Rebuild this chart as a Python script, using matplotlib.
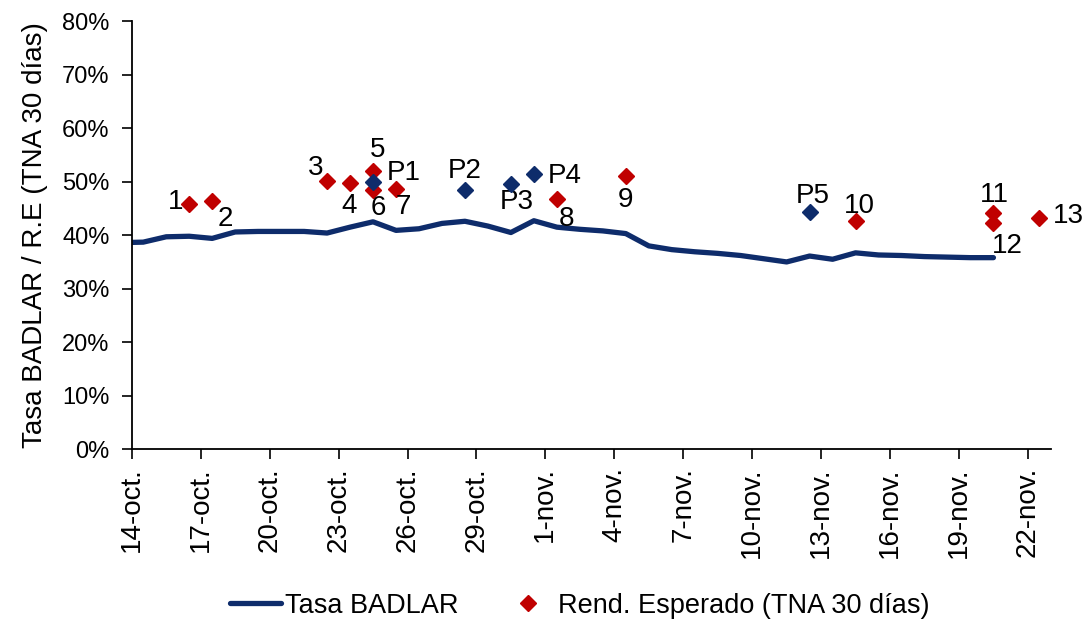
import pandas as pd
import numpy as np
import matplotlib.pyplot as plt
from matplotlib.ticker import FuncFormatter, MultipleLocator

plt.rcParams["font.family"] = ["Liberation Sans", "DejaVu Sans"]

# Tasa BADLAR, daily from 13-oct to 20-nov (%)
badlar_start = "2019-10-13"
badlar = [38.6, 38.7, 39.7, 39.8, 39.4, 40.6, 40.7, 40.7, 40.7, 40.4,
          41.5, 42.5, 40.9, 41.2, 42.2, 42.6, 41.7, 40.5, 42.7, 41.5,
          41.1, 40.8, 40.3, 38.0, 37.3, 36.9, 36.6, 36.2, 35.6, 35.0,
          36.1, 35.5, 36.7, 36.3, 36.2, 36.0, 35.9, 35.8, 35.8]

# Rend. Esperado (TNA 30 dias), red points
red_labels = ["1", "2", "3", "4", "5", "6", "7", "8", "9", "10", "11", "12", "13"]
red_dates = ["2019-10-16", "2019-10-17", "2019-10-22", "2019-10-23", "2019-10-24",
             "2019-10-24", "2019-10-25", "2019-11-01", "2019-11-04", "2019-11-14",
             "2019-11-20", "2019-11-20", "2019-11-22"]
red_values = [45.9, 46.4, 50.2, 49.8, 52.0, 48.4, 48.7, 46.7, 51.0, 42.6, 44.2, 42.3, 43.3]

# blue points
blue_labels = ["P1", "P2", "P3", "P4", "P5"]
blue_dates = ["2019-10-24", "2019-10-28", "2019-10-30", "2019-10-31", "2019-11-12"]
blue_values = [50.0, 48.4, 49.5, 51.4, 44.4]

meses = {10: "oct", 11: "nov"}

# label offsets in points (dx, dy) and alignment
red_offsets = {"1": (-4, 1, "right"), "2": (4, -13, "left"), "3": (-3, 9, "right"),
               "4": (-1, -17, "center"), "5": (3, 15, "center"), "6": (4, -13, "center"),
               "7": (5, -13, "center"), "8": (7, -14, "center"), "9": (0, -17, "center"),
               "10": (3, 11, "center"), "11": (1, 13, "center"), "12": (10, -17, "center"),
               "13": (10, 1, "left")}
blue_offsets = {"P1": (10, 6, "left"), "P2": (0, 14, "center"), "P3": (4, -13, "center"),
                "P4": (10, -1, "left"), "P5": (2, 11, "center")}

navy = "#0E2C6B"
red = "#C00000"
half = pd.Timedelta(hours=12)

fig = plt.figure(figsize=(10.89, 6.23), dpi=100)
ax = fig.add_axes([0.121, 0.279, 0.844, 0.687])

line_x = pd.date_range(badlar_start, periods=len(badlar), freq="D") + half
ax.plot(line_x, badlar, color=navy, lw=3.8, solid_capstyle="round", label="Tasa BADLAR", zorder=2)

rx = pd.to_datetime(red_dates) + half
bx = pd.to_datetime(blue_dates) + half
ax.plot(rx, red_values, ls="none", marker="D", ms=8, color=red, mec=red,
        label="Rend. Esperado (TNA 30 días)", zorder=3)
ax.plot(bx, blue_values, ls="none", marker="D", ms=8, color=navy, mec=navy, zorder=4)

for lab, x, y in zip(red_labels, rx, red_values):
    dx, dy, ha = red_offsets[lab]
    ax.annotate(lab, (x, y), xytext=(dx, dy), textcoords="offset points",
                ha=ha, va="center", fontsize=20)
for lab, x, y in zip(blue_labels, bx, blue_values):
    dx, dy, ha = blue_offsets[lab]
    ax.annotate(lab, (x, y), xytext=(dx, dy), textcoords="offset points",
                ha=ha, va="center", fontsize=20)

ax.set_xlim(pd.Timestamp("2019-10-14"), pd.Timestamp("2019-11-23"))
ax.set_ylim(0, 80)
ax.yaxis.set_major_locator(MultipleLocator(10))
ax.yaxis.set_major_formatter(FuncFormatter(lambda v, p: f"{v:.0f}%"))
ticks = pd.date_range("2019-10-14", "2019-11-22", freq="3D")
ax.set_xticks(ticks)
ax.set_xticklabels([f"{d.day}-{meses[d.month]}." for d in ticks], rotation=90, fontsize=20)
ax.tick_params(axis="y", labelsize=17, length=7, width=1.2, direction="out", pad=9)
ax.tick_params(axis="x", length=7, width=1.2, direction="out", pad=6)
for s in ["top", "right"]:
    ax.spines[s].set_visible(False)
for s in ["left", "bottom"]:
    ax.spines[s].set_linewidth(1.3)

ax.set_ylabel("Tasa BADLAR / R.E (TNA 30 días)", fontsize=20, labelpad=10)

fig.legend(loc="center", bbox_to_anchor=(0.532, 0.028), ncol=2, frameon=False,
           fontsize=19.5, handlelength=1.9, columnspacing=1.6, handletextpad=0.15)

fig.savefig("out.png", dpi=100)
